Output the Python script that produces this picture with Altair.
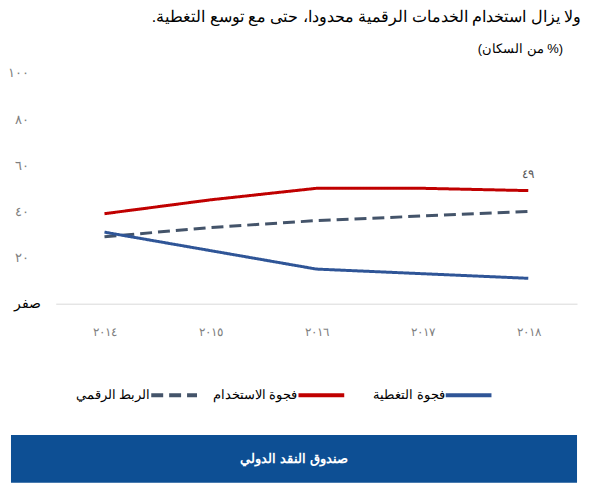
import altair as alt
import pandas as pd

# values
years = ["٢٠١٤", "٢٠١٥", "٢٠١٦", "٢٠١٧", "٢٠١٨"]
digital_connection = [29, 33, 36, 38, 40]
usage_gap = [39, 45, 50, 50, 49]
coverage_gap = [31, 23, 15, 13, 11]

series_names = ["الربط الرقمي", "فجوة الاستخدام", "فجوة التغطية"]
series_colors = ["#44546a", "#c00000", "#2f5597"]
series_dash = [[12, 6], [1, 0], [1, 0]]

y_ticks = [0, 20, 40, 60, 80, 100]
y_tick_labels = ["صفر", "٢٠", "٤٠", "٦٠", "٨٠", "١٠٠"]

# RLM keeps the full stop at the left end of the sentence
title_text = "ولا يزال استخدام الخدمات الرقمية محدودا، حتى مع توسع التغطية.\u200f"
subtitle_text = "(من السكان %)"
footer_text = "صندوق النقد الدولي"

AR_DIGITS = str.maketrans("0123456789", "٠١٢٣٤٥٦٧٨٩")
FONT = "Liberation Sans"
PLOT_W, PLOT_H = 524, 232

rows = []
for name, values in zip(series_names, [digital_connection, usage_gap, coverage_gap]):
    for year, v in zip(years, values):
        rows.append({"series": name, "year": year, "value": v,
                     "label": str(v).translate(AR_DIGITS)})
df = pd.DataFrame(rows)

# y labels in Arabic-Indic digits, zero written out
y_label_expr = " : ".join(
    f"datum.value == {t} ? '{l}'" for t, l in zip(y_ticks, y_tick_labels)
) + " : ''"
is_zero = "datum.value == 0"

color_scale = alt.Scale(domain=series_names, range=series_colors)
dash_scale = alt.Scale(domain=series_names, range=series_dash)

x_enc = alt.X("year:N", sort=years, scale=alt.Scale(type="point", padding=0.46),
              axis=alt.Axis(title=None, labelAngle=0, ticks=False, domainColor="#d9d9d9",
                            labelColor="#7f7f7f", labelFontSize=12, labelPadding=23,
                            labelFont=FONT))
y_enc = alt.Y("value:Q", scale=alt.Scale(domain=[0, 100], nice=False),
              axis=alt.Axis(title=None, values=y_ticks, labelExpr=y_label_expr,
                            grid=False, domain=False, ticks=False, labelFont=FONT,
                            labelPadding={"condition": {"test": is_zero, "value": 15},
                                          "value": 27},
                            labelColor={"condition": {"test": is_zero, "value": "black"},
                                        "value": "#7f7f7f"},
                            labelFontSize={"condition": {"test": is_zero, "value": 14},
                                           "value": 13}))

lines = alt.Chart(df).mark_line(strokeWidth=3).encode(
    x=x_enc,
    y=y_enc,
    color=alt.Color("series:N", scale=color_scale, legend=None),
    strokeDash=alt.StrokeDash("series:N", scale=dash_scale, legend=None),
)

end_label = alt.Chart(df).transform_filter(
    f"datum.series == '{series_names[1]}' && datum.year == '{years[-1]}'"
).mark_text(dy=-17, fontSize=12, color="#595959", font=FONT).encode(
    x=x_enc, y=y_enc, text="label:N"
)

top = alt.layer(lines, end_label).properties(
    width=PLOT_W, height=PLOT_H,
    title=alt.TitleParams(subtitle_text, anchor="end", fontSize=13, fontWeight="normal",
                          font=FONT, dx=-14, offset=11),
)

# right-to-left legend: line sample with its label on the left
legend_h = 20
legend_df = pd.DataFrame({"series": series_names})
leg_x = alt.X("series:N", sort=series_names, axis=None,
              scale=alt.Scale(type="point", padding=0, range=[96, 392]))
leg_symbols = alt.Chart(legend_df).mark_rule(strokeWidth=4, x2Offset=46).encode(
    x=leg_x, x2=alt.X2("series"), y=alt.value(legend_h / 2),
    color=alt.Color("series:N", scale=color_scale, legend=None),
    strokeDash=alt.StrokeDash("series:N", scale=dash_scale, legend=None),
)
leg_labels = alt.Chart(legend_df).mark_text(
    align="right", dx=-1, fontSize=13, font=FONT, color="black"
).encode(x=leg_x, y=alt.value(legend_h / 2), text="series:N")
legend_row = alt.layer(leg_symbols, leg_labels).properties(width=PLOT_W, height=legend_h)

# footer band runs under the y-axis labels too
footer_h = 48
footer_df = pd.DataFrame({"text": [footer_text]})
footer_band = alt.Chart(footer_df).mark_rect(color="#0d4f94").encode(
    x=alt.value(-45), x2=alt.value(PLOT_W), y=alt.value(0), y2=alt.value(footer_h)
)
footer_label = alt.Chart(footer_df).mark_text(
    color="white", fontSize=13, fontWeight="bold", font=FONT
).encode(x=alt.value((PLOT_W - 45) / 2), y=alt.value(footer_h / 2), text="text:N")
footer = alt.layer(footer_band, footer_label).properties(width=PLOT_W, height=footer_h)

chart = alt.vconcat(
    alt.vconcat(top, legend_row, spacing=48),
    footer, spacing=30,
).properties(
    title=alt.TitleParams(title_text, anchor="end", fontSize=16, fontWeight="normal",
                          font=FONT, color="black", dx=4, offset=18),
    padding=0,
).configure_view(stroke=None)

chart.save("out.html", embed_options={"renderer": "svg", "actions": False})
